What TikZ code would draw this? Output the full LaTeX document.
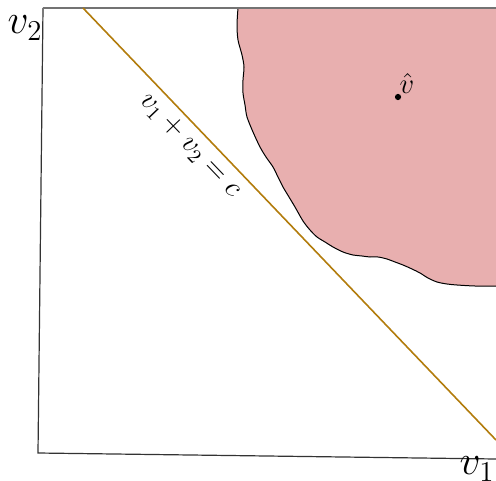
\documentclass[tikz,border=0pt]{standalone}
\usepackage{amsmath,amssymb}
\definecolor{blobpink}{RGB}{232,175,175}
\definecolor{budgetgold}{RGB}{178,124,12}
\usepackage{tikz}
\usetikzlibrary{positioning}

\begin{document}
\begin{tikzpicture}[x=0.5pt,y=-0.5pt]
  \useasboundingbox (0,0) rectangle (496,480);
  % region around v-hat
  \filldraw[fill=blobpink,draw=black,line width=0.5pt] (510,8) -- (238,8)
    -- plot[smooth] coordinates {(238,8) (237,25) (238,40) (242,55) (244,67) (243,80)
      (243,93) (245,105) (247,117) (253,132) (260,147) (266,157) (273,167) (278,177)
      (283,187) (289,197) (295,207) (303,221) (310,230) (317,237) (325,242) (333,247)
      (343,252) (353,255) (362,256) (370,257) (378,257) (387,259) (395,262) (403,265)
      (412,269) (420,273) (428,278) (437,282) (447,284) (457,285) (475,286) (496,286)}
    -- (510,286) -- cycle;
  % axes
  \coordinate (o) at (38,453);
  \coordinate (ytop) at (43,8);
  \coordinate (xend) at (496,459);
  \coordinate (tr) at (496,8);
  \draw[black!80,line width=0.6pt] (ytop) -- (o) -- (xend);
  \draw[black!55,line width=0.6pt] (ytop) -- (tr);
  \node[font=\huge] (ylab) at (25,28) {$v_2$};
  \node[font=\huge] (xlab) at (477,469) {$v_1$};
  % budget line
  \coordinate (la) at (83,8);
  \coordinate (lb) at (496,440);
  \draw[budgetgold,line width=0.8pt] (la) -- (lb)
    node[pos=0.29,sloped,below,text=black,font=\Large] (llab) {$v_1+v_2=c$};
  % v-hat
  \node[circle,fill=black,inner sep=1.1pt] (vhat) at (398,97) {};
  \node[above right=-3pt and -4pt of vhat,font=\Large] (vhatlab) {$\hat{v}$};
\end{tikzpicture}
\end{document}
